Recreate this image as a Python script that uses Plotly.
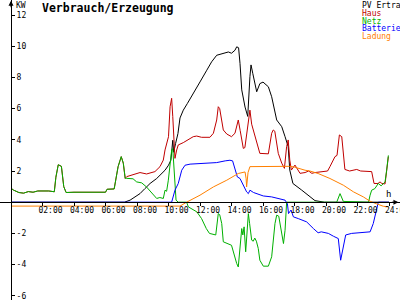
import plotly.graph_objects as go

# ---------------- data (hours, kW) ----------------
t_pv = [0, 7.2, 7.56, 7.87, 8.19, 8.5, 8.83, 9.25, 9.46, 9.78, 10.0, 10.15, 10.27, 10.33, 10.45,
        10.6, 10.73, 10.94, 11.2, 11.6, 12.0, 12.43, 12.74, 13.06, 13.38, 13.8, 14.0, 14.22, 14.33,
        14.45, 14.54, 14.65, 14.86, 15.03, 15.17, 15.24, 15.35, 15.6, 15.8, 16.0, 16.34, 16.55,
        16.87, 17.19, 17.4, 17.6, 17.7, 17.8, 17.9, 18.45, 19.1, 19.3, 19.9, 24]
pv_ertrag = [0, 0, 0.13, 0.34, 0.55, 0.87, 1.2, 1.52, 1.73, 2.05, 2.37, 2.69, 3.97, 3.2, 3.76,
             4.4, 5.4, 5.9, 6.33, 7.07, 7.71, 8.46, 9.0, 9.42, 9.53, 9.63, 9.55, 9.74, 9.96,
             9.9, 8.9, 7.2, 6.1, 5.5, 8.05, 8.8, 8.26, 7.08, 7.6, 7.7, 7.4, 6.76,
             5.27, 4.84, 4.2, 3.56, 2.06, 1.6, 1.2, 0.78, 0.24, 0.1, 0, 0]

t_haus = [0, 0.15, 0.5, 0.8, 1.1, 1.4, 1.7, 2.0, 2.4, 2.75, 2.85, 3.0, 3.2, 3.35, 3.5, 4.0, 5.0,
          6.0, 6.1, 6.55, 6.8, 7.0, 7.13, 7.25,
          7.35, 7.67, 7.98, 8.19, 8.61, 9.14, 9.46, 9.67, 9.78, 9.9, 10.0, 10.1, 10.2, 10.27,
          10.35, 10.41, 10.52, 10.62, 10.94, 11.26, 11.57, 11.79, 12.1, 12.63, 12.85, 13.06,
          13.16, 13.25, 13.35, 13.48, 13.7, 14.0, 14.22, 14.43, 14.55, 14.75, 14.85, 14.96,
          15.07, 15.17, 15.28, 15.39, 15.6, 15.8, 16.34, 16.55, 16.65, 16.75, 16.97, 17.19,
          17.36, 17.5, 17.6, 17.7, 17.8, 18.03, 18.35, 18.67, 18.9, 19.1, 19.3, 20.1, 20.25,
          20.57, 20.7, 20.85, 21.0, 21.1, 21.2, 21.5, 21.95, 22.2, 22.9, 23.05, 23.3, 23.43,
          23.55, 23.75, 23.96]
haus = [0.9, 0.78, 0.62, 0.58, 0.68, 0.64, 0.72, 0.74, 0.72, 0.67, 1.6, 2.4, 2.3, 1.0, 0.62, 0.64, 0.64,
        0.64, 0.83, 0.85, 2.28, 2.92, 2.5, 1.53,
        1.64, 1.74, 1.81, 1.9, 1.81, 1.96, 2.28, 2.7, 3.35, 3.78, 4.2, 6.12, 6.66, 5.5,
        3.56, 2.81, 3.35, 3.67, 3.82, 3.99, 4.2, 4.24, 4.16, 4.16, 4.42, 5.27,
        6.12, 6.0, 5.27, 4.63, 4.37, 4.2, 4.42, 5.27, 4.6, 3.45, 3.5, 4.42,
        5.38, 5.9, 5.0, 4.63, 3.78, 3.13, 3.1, 4.42, 4.63, 4.55, 3.13, 2.5,
        2.17, 3.56, 3.99, 2.7, 2.06, 2.38, 1.85, 1.9, 2.0, 1.85, 1.9, 2.0, 2.28,
        2.92, 3.0, 4.31, 4.2, 3.13, 2.1, 2.0, 2.1, 2.0, 1.96, 1.2, 1.2, 1.3,
        1.2, 1.17, 2.92]

t_netz = [0, 0.15, 0.5, 0.8, 1.1, 1.4, 1.7, 2.0, 2.4, 2.75, 2.85, 3.0, 3.2, 3.35, 3.5, 4.0, 5.0,
          6.0, 6.1, 6.55, 6.8, 7.0, 7.13, 7.25,
          7.35, 7.75, 7.98, 8.3, 8.6, 8.9, 9.25, 9.45, 9.67, 9.78, 9.88, 9.99, 10.1, 10.2, 10.27,
          10.35, 10.48, 10.62, 11.15, 11.26, 11.8, 12.1, 12.4, 12.6, 13.0, 13.16, 13.25, 13.38,
          13.48, 14.0, 14.2, 14.33, 14.43, 14.54, 14.65, 14.72, 14.8, 14.9, 15.07, 15.15, 15.28,
          15.38, 15.48, 15.58, 15.7, 15.8, 16.02, 16.34, 16.55, 16.76, 16.87, 17.0, 17.19, 17.3,
          17.4, 17.5, 20.68, 20.89, 21.1, 22.7, 22.8, 22.9, 23.1, 23.32, 23.5, 23.75, 23.85, 23.96]
netz = [0.9, 0.78, 0.62, 0.58, 0.68, 0.64, 0.72, 0.74, 0.72, 0.67, 1.6, 2.4, 2.3, 1.0, 0.62, 0.64, 0.64,
        0.64, 0.83, 0.85, 2.28, 2.92, 2.5, 1.53,
        1.53, 1.5, 1.3, 1.24, 0.98, 0.66, 0.24, 0.3, 0.24, 0.77, 0.7, 1.41, 2.48, 3.33, 3.44,
        2.0, 0.13, 0.0, 0.0, -0.3, -0.62, -1.05, -1.69, -2.0, -2.1, -0.73, -0.8, -1.37,
        -2.54, -2.76, -3.5, -3.93, -4.15, -2.86, -1.69, -2.1, -1.58, -3.18, -0.73, -1.37, -2.43,
        -2.5, -2.3, -2.5, -2.97, -3.72, -4.1, -4.1, -3.5, -1.37, -0.83, -0.9, -2.22, -2.65,
        -1.8, 0.0, 0.0, 0.55, 0.05, 0.0, 0.45, 0.77, 0.87, 1.2, 1.05, 1.3, 2.05, 3.0]

t_batterie = [0, 10.2, 10.41, 10.62, 10.84, 11.05, 11.37, 12.2, 13.06, 13.6, 13.9, 14.07, 14.22,
              14.37, 14.54, 14.75, 14.96, 15.07, 15.17, 15.4, 15.6, 16.02, 16.55, 16.97, 17.4,
              17.55, 17.62, 17.78, 17.93, 18.24, 18.67, 18.77, 19.2, 19.5, 19.7, 20.15, 20.47,
              20.78, 20.93, 21.1, 21.25, 21.63, 22.37, 22.8, 23.0, 23.2, 23.32, 24]
batterie = [0, 0, 0.77, 1.2, 2.05, 2.37, 2.44, 2.48, 2.54, 2.65, 2.69, 2.65, 2.16,
            1.62, 1.52, 1.09, 0.66, 0.55, 0.77, 0.62, 0.55, 0.4, 0.34, 0.24, 0.13,
            -0.1, -0.73, -0.5, -0.94, -1.05, -1.2, -1.26, -1.69, -1.96, -1.9, -2.0, -2.18,
            -2.33, -3.72, -2.86, -2.1, -2.0, -1.96, -1.9, -1.37, -0.51, 0, 0]

t_ladung = [0, 10.73, 11.15, 12.0, 12.85, 13.7, 14.43, 14.86, 14.93, 14.96, 15.05, 15.17, 17.7,
            18.0, 18.67, 18.98, 19.5, 20.25, 21.1, 21.75, 22.37, 22.8, 23.2, 23.64, 23.96]
ladung = [-0.25, -0.25, 0.0, 0.45, 0.98, 1.41, 1.84, 1.94, 1.5, 0.98, 1.9, 2.28, 2.3,
          2.25, 2.05, 2.0, 1.84, 1.52, 1.09, 0.66, 0.34, 0.06, -0.1, -0.26, -0.3]

x_tick_vals = [2, 4, 6, 8, 10, 12, 14, 16, 18, 20, 22, 24]
x_tick_text = ["02:00", "04:00", "06:00", "08:00", "10:00", "12:00", "14:00", "16:00",
               "18:00", "20:00", "22:00", "24:00"]
y_tick_vals = [-6, -4, -2, 2, 4, 6, 8, 10, 12]
y_tick_text = ["-6", "-4", "-2", "2", "4", "6", "8", "10", "12"]

series_names = ["PV Ertrag", "Haus", "Netz", "Batterie", "Ladung"]
series_colors = ["#000000", "#c00000", "#00b000", "#0000ff", "#ff8000"]

# ---------------- figure ----------------
W, H = 400, 300
X0_PX, PX_PER_H = 11, 15.75
Y0_PX, PX_PER_KW = 202.2, 15.6
xr = [-X0_PX / PX_PER_H, (W - X0_PX) / PX_PER_H]
yr = [-(H - Y0_PX) / PX_PER_KW, Y0_PX / PX_PER_KW]

MONO = "DejaVu Sans Mono"

fig = go.Figure()
data = [(t_pv, pv_ertrag), (t_haus, haus), (t_netz, netz),
        (t_batterie, batterie), (t_ladung, ladung)]
for (tx, vy), name, col in zip(data, series_names, series_colors):
    fig.add_trace(go.Scatter(x=tx, y=vy, mode="lines", name=name,
                             line=dict(color=col, width=1), showlegend=False,
                             hoverinfo="skip"))

fig.update_layout(
    width=W, height=H, margin=dict(l=0, r=0, t=0, b=0, autoexpand=False),
    paper_bgcolor="white", plot_bgcolor="white",
    font=dict(family=MONO, size=8, color="black"),
    xaxis=dict(range=xr, showgrid=False, zeroline=False, showline=True,
               linecolor="black", linewidth=1, anchor="free", automargin=False,
               position=(0 - yr[0]) / (yr[1] - yr[0]),
               tickmode="array", tickvals=x_tick_vals, ticktext=x_tick_text,
               ticks="outside", ticklen=3, tickcolor="black", tickwidth=1,
               ticklabelshift=8, ticklabelstandoff=-3, ticklabeloverflow="allow",
               tickfont=dict(family=MONO, size=8, color="black")),
    yaxis=dict(range=yr, showgrid=False, zeroline=False, showline=True,
               linecolor="black", linewidth=1, anchor="free", side="right",
               position=X0_PX / W, automargin=False,
               tickmode="array", tickvals=y_tick_vals, ticktext=y_tick_text,
               ticks="outside", ticklen=3, tickcolor="black", tickwidth=1,
               ticklabeloverflow="allow",
               tickfont=dict(family=MONO, size=8, color="black")),
)

ann = []
# title
ann.append(dict(text="<b>Verbrauch/Erzeugung</b>", x=40 / W, y=1 - 8 / H, xref="paper", yref="paper",
                xanchor="left", yanchor="middle", showarrow=False,
                font=dict(family=MONO, size=11.5, color="black")))
# unit
ann.append(dict(text="KW", x=14 / W, y=1 - 5 / H, xref="paper", yref="paper",
                xanchor="left", yanchor="middle", showarrow=False,
                font=dict(family=MONO, size=8, color="black")))
# h label
ann.append(dict(text="h", x=384 / W, y=1 - 194 / H, xref="paper", yref="paper",
                xanchor="left", yanchor="middle", showarrow=False,
                font=dict(family=MONO, size=9, color="black")))
# legend as coloured text
leg_y = [5, 13, 21, 28.5, 36]
for name, col, yy in zip(series_names, series_colors, leg_y):
    ann.append(dict(text=name, x=360 / W, y=1 - yy / H, xref="paper", yref="paper",
                    xanchor="left", yanchor="middle", showarrow=False,
                    font=dict(family=MONO, size=8, color=col)))
# axis arrows
ann.append(dict(x=xr[1] - 0.1, y=0, xref="x", yref="y", ax=-8, ay=0, text="",
                showarrow=True, arrowhead=2, arrowsize=1, arrowwidth=1,
                arrowcolor="black", standoff=0))
ann.append(dict(x=0, y=yr[1] - 0.05, xref="x", yref="y", ax=0, ay=8, text="",
                showarrow=True, arrowhead=2, arrowsize=1, arrowwidth=1,
                arrowcolor="black", standoff=0))
fig.update_layout(annotations=ann)

fig.write_html("out.html")
